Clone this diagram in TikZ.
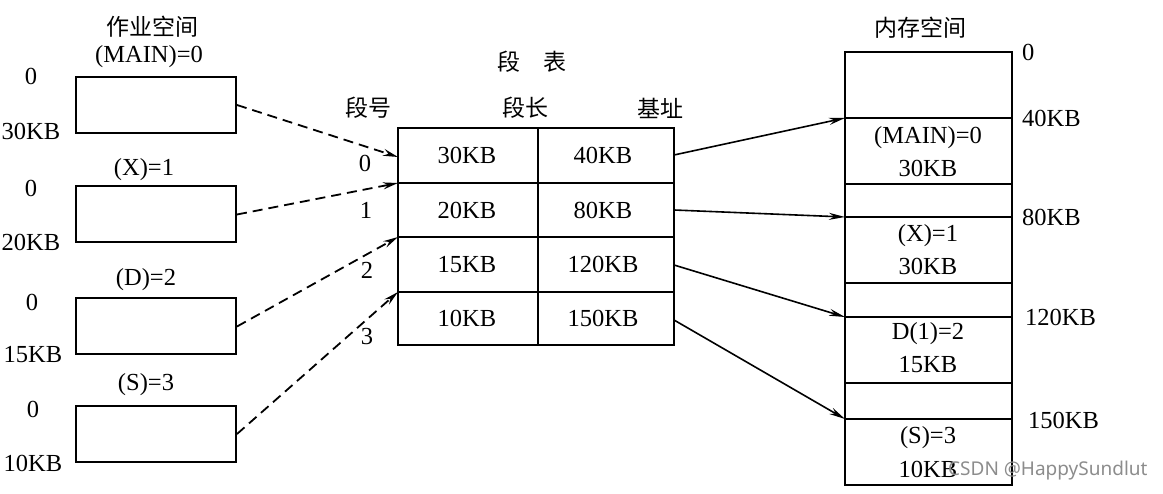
\documentclass[tikz,border=0pt]{standalone}
\usepackage{fontspec}
\setmainfont{Liberation Serif}
\newfontfamily\cjk{Noto Sans CJK SC}
\newfontfamily\wmfont{Noto Sans}
\usetikzlibrary{arrows.meta}
\begin{document}
\begin{tikzpicture}[x=1pt,y=-1pt,
  every node/.style={font=\fontsize{24.5}{26}\selectfont, inner sep=0pt},
  cn/.style={font=\cjk\fontsize{23}{26}\selectfont},
  box/.style={draw, line width=2pt, inner sep=0pt},
  jobbox/.style={box, minimum width=160pt, minimum height=56pt},
  inner/.style={line width=1.5pt},
  dasharrow/.style={line width=1.8pt, dash pattern=on 10pt off 6pt, -{Stealth[length=15pt,width=7pt]}},
  solidarrow/.style={line width=1.6pt, -{Stealth[length=16pt,width=7pt]}},
  wm/.style={font=\wmfont\fontsize{19}{22}\selectfont, text=black!45}
]
\useasboundingbox (0,0) rectangle (1163,494);

% ---------- job space ----------
\node[cn] (jobtitle) at (152,27) {作业空间};
\node (mainl) at (149,57) {(MAIN)=0};
\node[jobbox] (b1) at (156,105) {};
\node (z1) at (31,76) {0};
\node (e1) at (31,131) {30KB};

\node (xl) at (144,170) {(X)=1};
\node[jobbox] (b2) at (156,214.5) {};
\node (z2) at (31,188) {0};
\node (e2) at (31,242) {20KB};

\node (dl) at (146,280) {(D)=2};
\node[jobbox] (b3) at (156,326.5) {};
\node (z3) at (32,302) {0};
\node (e3) at (33,355) {15KB};

\node (sl) at (146,385) {(S)=3};
\node[jobbox] (b4) at (156,434) {};
\node (z4) at (33,409) {0};
\node (e4) at (33,463) {10KB};

% ---------- segment table ----------
\node[cn] (tabtitle) at (532,62) {段\quad 表};
\node[cn] (h1) at (368,108) {段号};
\node[cn] (h2) at (525,108) {段长};
\node[cn] (h3) at (660,108) {基址};

\node[box, minimum width=276pt, minimum height=217pt] (tab) at (536,236.5) {};
\draw[inner] (398,183) -- (674,183);
\draw[inner] (398,237) -- (674,237);
\draw[inner] (398,292) -- (674,292);
\draw[inner] (538,128) -- (538,345);

\node (l0) at (467,155.5) {30KB};  \node (a0) at (603,155.5) {40KB};
\node (l1) at (467,210) {20KB};    \node (a1) at (603,210) {80KB};
\node (l2) at (467,264.5) {15KB};  \node (a2) at (603,264.5) {120KB};
\node (l3) at (467,318.5) {10KB};  \node (a3) at (603,318.5) {150KB};

\node (n0) at (365,163) {0};
\node (n1) at (366,210) {1};
\node (n2) at (367,270) {2};
\node (n3) at (367,337) {3};

\coordinate (t0) at (398,157);
\coordinate (t1) at (398,183);
\coordinate (t2) at (398,237);
\coordinate (t3) at (398,292);

\draw[dasharrow] (b1.east) -- (t0);
\draw[dasharrow] (b2.east) -- (t1);
\draw[dasharrow] (b3.east) -- (t2);
\draw[dasharrow] (b4.east) -- (t3);

% ---------- memory ----------
\node[cn] (memtitle) at (920,28) {内存空间};
\node[box, minimum width=167pt, minimum height=433pt] (mem) at (928.5,268.5) {};
\draw[inner] (845,118) -- (1012,118);
\draw[inner] (845,184) -- (1012,184);
\draw[inner] (845,217) -- (1012,217);
\draw[inner] (845,283) -- (1012,283);
\draw[inner] (845,317) -- (1012,317);
\draw[inner] (845,383) -- (1012,383);
\draw[inner] (845,419) -- (1012,419);

\node (m0a) at (928,138) {(MAIN)=0};
\node (m0b) at (928,168) {30KB};
\node (m1a) at (928,236) {(X)=1};
\node (m1b) at (928,266) {30KB};
\node (m2a) at (928,334) {D(1)=2};
\node (m2b) at (928,365) {15KB};
\node (m3a) at (928,438) {(S)=3};
\node (m3b) at (928,469) {10KB};

\node[anchor=west] (ad0) at (1022,52) {0};
\node[anchor=west] (ad1) at (1022,118) {40KB};
\node[anchor=west] (ad2) at (1022,217) {80KB};
\node[anchor=west] (ad3) at (1025,317) {120KB};
\node[anchor=west] (ad4) at (1028,420) {150KB};

\coordinate (s0) at (674,155);
\coordinate (s1) at (674,210);
\coordinate (s2) at (674,265);
\coordinate (s3) at (674,320);
\coordinate (d0) at (845,118);
\coordinate (d1) at (845,217);
\coordinate (d2) at (845,317);
\coordinate (d3) at (845,419);

\draw[solidarrow] (s0) -- (d0);
\draw[solidarrow] (s1) -- (d1);
\draw[solidarrow] (s2) -- (d2);
\draw[solidarrow] (s3) -- (d3);

\node[wm, anchor=west] (wmark) at (948,471) {CSDN @HappySundlut};
\end{tikzpicture}
\end{document}
